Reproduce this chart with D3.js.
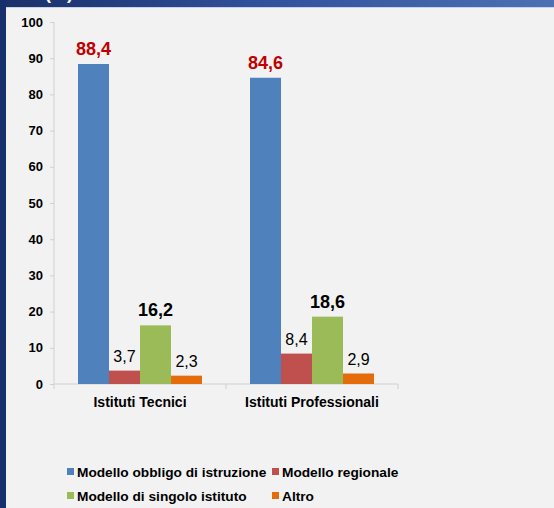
<!DOCTYPE html>
<html>
<head>
<meta charset="utf-8">
<script src="https://cdn.jsdelivr.net/npm/d3@7"></script>
<style>
  body { margin: 0; padding: 0; background: #f2f2f2; }
  svg { display: block; font-family: "Liberation Sans", Arial, sans-serif; }
</style>
</head>
<body>
<svg width="554" height="508"></svg>
<script>
// data
var categories = ["Istituti Tecnici", "Istituti Professionali"];
var series = ["Modello obbligo di istruzione", "Modello regionale", "Modello di singolo istituto", "Altro"];
var tecnici = [88.4, 3.7, 16.2, 2.3];
var professionali = [84.6, 8.4, 18.6, 2.9];
var yTicks = [0, 10, 20, 30, 40, 50, 60, 70, 80, 90, 100];

var colors = ["#4f81bd", "#c0504d", "#9bbb59", "#e46c0a"];

var svg = d3.select("svg"),
    width = +svg.attr("width"),
    height = +svg.attr("height");

// frame of the slide
var defs = svg.append("defs");
var grad = defs.append("linearGradient").attr("id", "band");
grad.append("stop").attr("offset", "0%").attr("stop-color", "#1a3068");
grad.append("stop").attr("offset", "45%").attr("stop-color", "#30509a");
grad.append("stop").attr("offset", "100%").attr("stop-color", "#4d70b4");

svg.append("rect").attr("width", width).attr("height", height).attr("fill", "#f2f2f2");
svg.append("rect").attr("width", width).attr("height", 7).attr("fill", "url(#band)");
svg.append("rect").attr("y", 7).attr("width", width).attr("height", 1).attr("fill", "#c9d3e8");
svg.append("rect").attr("width", 6).attr("height", height).attr("fill", "#17306b");
// title is cut by the top edge in the original, only its bottom shows
svg.append("text")
    .attr("x", 45).attr("y", -1.5)
    .attr("fill", "#ffffff")
    .style("font-size", "18px").style("font-weight", "bold")
    .text("(%)");

var x0 = d3.scaleBand()
    .domain(categories)
    .range([54, 398]);

var x1 = d3.scaleBand()
    .domain(series)
    .range([0, x0.bandwidth()])
    .paddingOuter(0.774);

var y = d3.scaleLinear()
    .domain([0, 100])
    .range([384, 22]);

// y axis
var yAxis = svg.append("g")
    .attr("transform", "translate(54,0)")
    .call(d3.axisLeft(y).tickValues(yTicks).tickSize(4).tickPadding(7));
yAxis.select(".domain").attr("stroke", "#d0d0d0").attr("d", "M0,22V389");
yAxis.selectAll(".tick line").attr("stroke", "#d0d0d0");
yAxis.selectAll(".tick text")
    .attr("fill", "#000")
    .style("font-size", "13px").style("font-weight", "bold")
    .style("font-family", "Liberation Sans, Arial, sans-serif");

// x axis line + category boundary ticks
svg.append("line")
    .attr("x1", 54).attr("x2", 398)
    .attr("y1", y(0)).attr("y2", y(0))
    .attr("stroke", "#d0d0d0");
var bounds = categories.map(function(c) { return x0(c); }).concat([x0(categories[1]) + x0.bandwidth()]);
svg.selectAll(".xtick")
    .data(bounds.slice(1))
    .enter().append("line")
    .attr("x1", function(d) { return d; }).attr("x2", function(d) { return d; })
    .attr("y1", y(0)).attr("y2", y(0) + 5)
    .attr("stroke", "#d0d0d0");

svg.selectAll(".cat")
    .data(categories)
    .enter().append("text")
    .attr("x", function(d) { return x0(d) + x0.bandwidth() / 2; })
    .attr("y", 407)
    .attr("text-anchor", "middle")
    .style("font-size", "14px").style("font-weight", "bold")
    .text(function(d) { return d; });

// bars
var rows = [tecnici, professionali];
var groups = svg.selectAll(".grp")
    .data(categories)
    .enter().append("g")
    .attr("transform", function(d) { return "translate(" + x0(d) + ",0)"; });

groups.selectAll("rect")
    .data(function(d, i) { return rows[i].map(function(v, j) { return { s: series[j], v: v, j: j }; }); })
    .enter().append("rect")
    .attr("x", function(d) { return x1(d.s); })
    .attr("width", x1.bandwidth())
    .attr("y", function(d) { return y(d.v); })
    .attr("height", function(d) { return y(0) - y(d.v); })
    .attr("fill", function(d) { return colors[d.j]; });

groups.selectAll(".val")
    .data(function(d, i) { return rows[i].map(function(v, j) { return { s: series[j], v: v, j: j }; }); })
    .enter().append("text")
    .attr("x", function(d) { return x1(d.s) + x1.bandwidth() / 2; })
    .attr("y", function(d) { return y(d.v) - 9; })
    .attr("text-anchor", "middle")
    .attr("fill", function(d) { return d.j == 0 ? "#c00000" : "#000"; })
    .style("font-size", function(d) { return (d.j == 0 || d.j == 2) ? "18px" : "16px"; })
    .style("font-weight", function(d) { return (d.j == 0 || d.j == 2) ? "bold" : "normal"; })
    .text(function(d) { return d3.format(".1f")(d.v).replace(".", ","); });

// legend
var legendX = [67, 272], legendY = [472, 496];
var legend = svg.selectAll(".legend")
    .data(series)
    .enter().append("g")
    .attr("transform", function(d, i) { return "translate(" + legendX[i % 2] + "," + legendY[Math.floor(i / 2)] + ")"; });
legend.append("rect")
    .attr("x", 0).attr("y", -4)
    .attr("width", 7).attr("height", 7)
    .attr("fill", function(d, i) { return colors[i]; });
legend.append("text")
    .attr("x", 10).attr("y", 5)
    .style("font-size", "13.7px").style("font-weight", "bold")
    .text(function(d) { return d; });
</script>
</body>
</html>
